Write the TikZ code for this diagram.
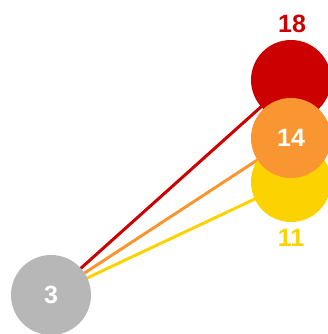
\documentclass[tikz,border=0pt]{standalone}
\usepackage{fontspec}
\setmainfont{Liberation Sans}
\usetikzlibrary{positioning}
\definecolor{valred}{HTML}{CC0000}
\definecolor{valorange}{HTML}{FA9632}
\definecolor{valyellow}{HTML}{FCD200}
\definecolor{valgray}{HTML}{B7B7B7}
\begin{document}
\begin{tikzpicture}[x=1pt,y=-1pt,
    bubble/.style={circle, inner sep=0pt, minimum size=80pt, text=white, font=\fontsize{25}{28}\selectfont\bfseries},
    link/.style={line width=3pt},
    vallabel/.style={font=\fontsize{25}{28}\selectfont\bfseries}]
    \useasboundingbox (0,0) rectangle (327,334);
    % Centres
    \coordinate (c3) at (51,295);
    \coordinate (c18) at (291,80);
    \coordinate (c14) at (291,138);
    \coordinate (c11) at (291,182);
    % Links
    \draw[link, valyellow] (c3) -- (c11);
    \draw[link, valorange] (c3) -- (c14);
    \draw[link, valred] (c3) -- (c18);
    % Bubbles
    \node[bubble, fill=valgray] (n3) at (c3) {3};
    \node[bubble, fill=valyellow] (n11) at (c11) {};
    \node[bubble, fill=valred] (n18) at (c18) {};
    \node[bubble, fill=valorange] (n14) at (c14) {14};
    % Values
    \node[vallabel, valred] (l18) at (292,24) {18};
    \node[vallabel, valyellow] (l11) at (291,238) {11};
\end{tikzpicture}
\end{document}
